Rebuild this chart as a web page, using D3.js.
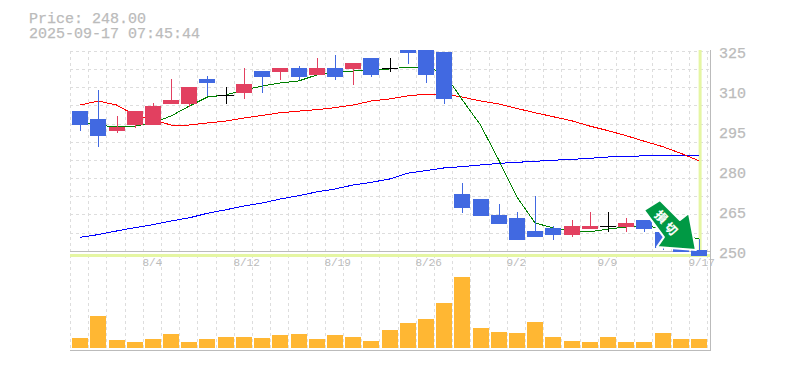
<!DOCTYPE html>
<html>
<head>
<meta charset="utf-8">
<script src="https://cdnjs.cloudflare.com/ajax/libs/d3/7.8.5/d3.min.js"></script>
<style>
html, body { margin: 0; padding: 0; background: #fff; }
svg { display: block; }
text { font-family: "Liberation Mono", monospace; fill: #bbb; stroke: #bbb; stroke-width: 0.25; }
</style>
</head>
<body>
<div id="chart"></div>
<script>
// candles, values
let opens  = [303.25,300.25,295.75,298,298,305.9,305.9,315.25,309.25,310,318.25,317.9,319.4,316.75,319.4,319,323.1,319.4,328,328,325.4,272.1,270.25,264.25,263.1,258.25,259.4,256.75,259,260.1,259.75,262.4,257.9,251.9,251.1];
let closes = [298,293.9,297.25,303.25,305.1,307.4,312.25,313.75,309.25,313.4,316,319.4,316,319.4,316,321.25,316.75,319.4,325,316.75,307.75,266.9,263.9,260.9,254.9,256,256.75,260.1,260.1,260.1,261.25,259,251.9,250.4,248];
let highs  = [303.25,311.1,301.4,303.25,306.25,315.25,312.25,316.4,312.25,319.4,318.25,319.4,320.1,323.1,324.25,321.25,323.1,323.1,329,328,325.4,276.25,270.25,268.4,265.4,271.4,260.1,262.4,265.4,265.4,263.1,262.4,257.9,251.9,255.25];
let lows   = [295.75,289.75,295,296.9,298,305.9,304.75,308.9,305.9,307.75,310,314.9,314.9,316.75,314.9,313,316,317.9,320.9,313.75,305.9,265,263.9,260.9,254.9,256,254.9,256,259,257.9,257.9,257.9,251.1,250.4,248];

// moving averages
let maShort = [299.1,298,297.25,297.6,298.75,301.4,305.1,308.5,309.25,311.1,312.6,313.75,314.5,316.75,317.9,318.25,318.6,319,319.75,319.75,317.5,307.4,298,284.9,271,261.25,259.4,258.25,257.9,259,259.75,260.1,259.4,257.1,255.25];
let maMid   = [305.5,307,305.5,301.75,299.9,298,298,298.75,299.5,300.6,301.6,302.6,303.2,303.75,304.5,305.5,307,307.75,308.9,309.6,309.6,308.5,307,305.9,304.2,302.6,301.1,299.6,297.6,295.9,294,291.9,289.9,287.4,284.6];
let maLong  = [255.9,256.9,258.25,259.5,260.6,262,263.2,264.9,266.2,267.6,268.75,270.25,271.5,272.9,274,275.5,276.5,277.75,279.9,280.9,281.9,282.4,283,283.6,284,284.4,284.8,285.1,285.5,286,286.3,286.4,286.6,286.6,286.6];

// volume bars
let volumes = [10,32,8,6,9,14,6,9,11,11,10,13,14,9,13,11,7,18,25,29,45,71,20,16,15,26,11,7,6,11,6,6,15,9,9];

// axis labels
let dateLabels = [[4,"8/4"],[9,"8/12"],[14,"8/19"],[19,"8/26"],[24,"9/2"],[29,"9/9"],[34,"9/17"]];
let priceTicks = [250,265,280,295,310,325];
let titleLines = ["Price: 248.00","2025-09-17 07:45:44"];

let svgWidth = 785;
let svgHeight = 370;

let svg = d3.select("#chart")
    .append("svg")
    .attr("width", svgWidth)
    .attr("height", svgHeight);

let x = d3.scaleBand()
    .domain(d3.range(opens.length))
    .range([71, 708]);
let center = i => x(i) + x.bandwidth() / 2;

let y = d3.scaleLinear().domain([250, 325]).range([253, 53]);
let yVol = d3.scaleLinear().domain([0, 71]).range([348, 277]);

// clip for the price panel
svg.append("defs").append("clipPath").attr("id", "priceClip")
    .append("rect").attr("x", 70).attr("y", 50).attr("width", 640).attr("height", 206);

// dashed grid
let gridGroup = svg.append("g")
    .attr("stroke", "#ddd")
    .attr("stroke-dasharray", "3,3")
    .attr("shape-rendering", "crispEdges");

gridGroup.selectAll(".v").data(d3.range(opens.length + 1)).enter().append("line")
    .attr("x1", i => Math.round(71 + i * x.step()) - 0.5)
    .attr("x2", i => Math.round(71 + i * x.step()) - 0.5)
    .attr("y1", 51)
    .attr("y2", 350);

gridGroup.selectAll(".h").data(d3.range(11)).enter().append("line")
    .attr("x1", 70)
    .attr("x2", 710)
    .attr("y1", i => Math.round(51 + i * 18.15) + 0.5)
    .attr("y2", i => Math.round(51 + i * 18.15) + 0.5);

// panel borders
let borderGroup = svg.append("g").attr("stroke", "#bbb").attr("shape-rendering", "crispEdges");
[[70, 710, 251.5, 251.5], [70, 710, 350.5, 350.5], [710.5, 710.5, 50, 351]].forEach(b => {
    borderGroup.append("line")
        .attr("x1", b[0]).attr("x2", b[1]).attr("y1", b[2]).attr("y2", b[3]);
});

// price and date labels
svg.selectAll(".price").data(priceTicks).enter().append("text")
    .attr("x", 719)
    .attr("y", d => y(d) + 4.5)
    .style("font-size", "15px")
    .text(d => d);

svg.selectAll(".date").data(dateLabels).enter().append("text")
    .attr("x", d => center(d[0]) - 10.5)
    .attr("y", 266)
    .style("font-size", "11px")
    .style("stroke-width", 0)
    .text(d => d[1]);

svg.selectAll(".title").data(titleLines).enter().append("text")
    .attr("x", 29)
    .attr("y", (d, i) => 23 + i * 15)
    .style("font-size", "15px")
    .text(d => d);

// last price marker lines
let lastX = center(opens.length - 1);
svg.append("rect").attr("x", lastX - 0.3).attr("y", 50).attr("width", 3).attr("height", 206).attr("fill", "#e5f6a3");
svg.append("rect").attr("x", 70).attr("y", 254).attr("width", 640).attr("height", 3).attr("fill", "#e5f6a3");

let priceGroup = svg.append("g").attr("clip-path", "url(#priceClip)");

// moving average lines
let maLine = d3.line().x((d, i) => center(i)).y(d => y(d));
[[maLong, "#0000ff"], [maMid, "#ff0000"], [maShort, "#008000"]].forEach(s => {
    priceGroup.append("path")
        .attr("d", maLine(s[0]))
        .attr("fill", "none")
        .attr("stroke", s[1])
        .attr("stroke-width", 1)
        .attr("shape-rendering", "crispEdges");
});

// candles
function candleColor(i) {
    if (closes[i] > opens[i]) return "#e24060";
    if (closes[i] < opens[i]) return "#4169e1";
    return "#000";
}

let candles = priceGroup.selectAll(".candle").data(d3.range(opens.length)).enter().append("g")
    .attr("shape-rendering", "crispEdges");

candles.append("rect")
    .attr("x", i => Math.round(center(i)))
    .attr("y", i => y(highs[i]))
    .attr("width", 1)
    .attr("height", i => y(lows[i]) - y(highs[i]))
    .attr("fill", candleColor);

candles.append("rect")
    .attr("x", i => Math.round(center(i)) - 8)
    .attr("y", i => y(Math.max(opens[i], closes[i])))
    .attr("width", 16)
    .attr("height", i => Math.max(1, Math.abs(y(opens[i]) - y(closes[i]))))
    .attr("fill", candleColor);

// volume
svg.selectAll(".vol").data(volumes).enter().append("rect")
    .attr("x", (d, i) => Math.round(center(i)) - 8)
    .attr("y", d => yVol(d))
    .attr("width", 16)
    .attr("height", d => yVol(0) - yVol(d))
    .attr("fill", "#ffb733")
    .attr("shape-rendering", "crispEdges");

// sell arrow pointing at the last candle
let arrowTip = [lastX - 3, y(251.1)];
let arrowShape = [[0,0],[-39,-3],[-32,-13],[-52,-40],[-36,-50],[-16,-30],[-7,-37]];
let arrow = svg.append("g").attr("transform", `translate(${arrowTip[0]},${arrowTip[1]})`);
arrow.append("polygon")
    .attr("points", arrowShape.map(p => p.join(",")).join(" "))
    .attr("fill", "#009944")
    .attr("stroke", "#fff")
    .attr("stroke-width", 2)
    .attr("stroke-linejoin", "round");

[["損", -34, -34], ["切", -24, -22]].forEach(c => {
    arrow.append("text")
        .attr("transform", `translate(${c[1]},${c[2]}) rotate(45)`)
        .attr("text-anchor", "middle")
        .attr("dominant-baseline", "central")
        .style("font-family", '"Noto Sans CJK JP"')
        .style("font-weight", "bold")
        .style("font-size", "12px")
        .style("fill", "#fff")
        .style("stroke", "#fff")
        .style("stroke-width", 0.2)
        .text(c[0]);
});
</script>
</body>
</html>
